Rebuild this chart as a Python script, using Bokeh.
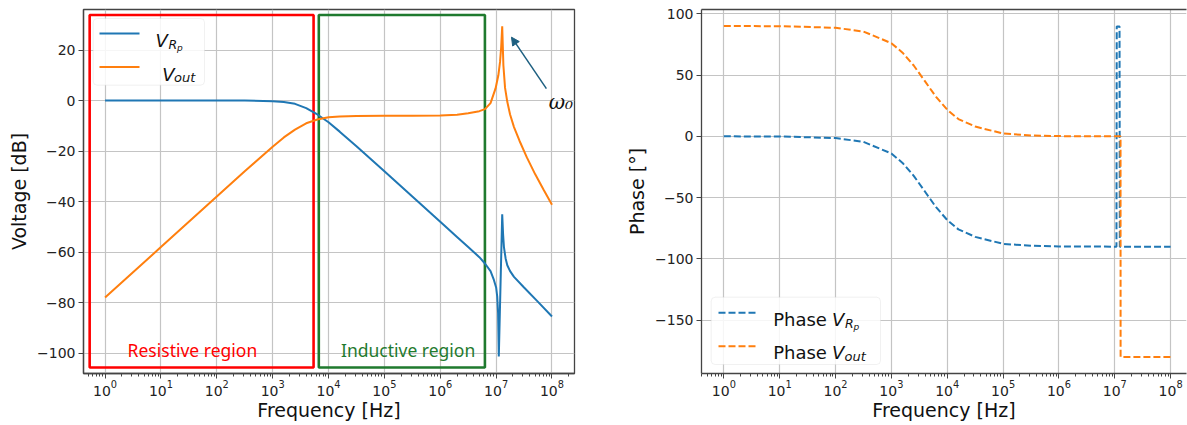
from bokeh.plotting import figure
from bokeh.layouts import row
from bokeh.models import (FixedTicker, LogTickFormatter, Label, BoxAnnotation, Arrow,
                          NormalHead, Range1d, LinearAxis)
from bokeh.core.properties import value
from bokeh.embed import file_html
from bokeh.resources import INLINE

BLUE = "#1f77b4"
ORANGE = "#ff7f0e"
ARROW_COLOR = "#1d5f80"
TXT = "#111111"

# ---------------- data ----------------
# frequencies given as decimal exponents (f = 10**exp  Hz)
vrp_mag_exp = [0, 1, 2, 2.5, 3, 3.2, 3.4, 3.6, 3.8, 4.0, 4.2, 4.5, 5.0, 5.5, 6.0, 6.3,
               6.5, 6.7, 6.8, 6.9, 6.96, 7.0, 7.02, 7.035, 7.048, 7.109, 7.125, 7.14,
               7.17, 7.2, 7.25, 7.32, 7.5, 7.75, 8.0]
vrp_mag_db = [0, 0, 0, -0.02, -0.26, -0.6, -1.3, -3.0, -5.5, -8.6, -12.3, -18.1, -28.0,
              -38.0, -48.0, -54.0, -58.0, -62.0, -64.5, -67.5, -71.0, -74.0, -77.6, -84.0,
              -101.3, -45.0, -53.0, -58.0, -62.5, -65.2, -67.5, -69.8, -74.0, -79.7, -85.5]

vout_mag_exp = [0, 1, 2, 2.5, 3, 3.2, 3.4, 3.6, 3.8, 4.0, 4.2, 4.5, 5.0, 5.5, 6.0, 6.3,
                6.5, 6.7, 6.8, 6.9, 6.99, 7.04, 7.07, 7.09, 7.109, 7.13, 7.16, 7.2, 7.25,
                7.32, 7.42, 7.55, 7.7, 7.85, 8.0]
vout_mag_db = [-78.0, -58.0, -38.0, -28.0, -18.3, -14.6, -11.5, -9.0, -7.5, -6.6, -6.3,
               -6.1, -6.0, -6.0, -5.9, -5.6, -5.0, -4.2, -3.4, -1.0, 4.8, 10.0, 15.3, 21.0,
               29.4, 14.0, 5.0, -0.5, -5.5, -10.5, -16.0, -22.5, -29.2, -35.3, -41.2]

vrp_ph_exp = [0, 1, 2, 2.5, 3, 3.2, 3.4, 3.6, 3.8, 4.0, 4.2, 4.5, 5.0, 5.5, 6.0, 7.0,
              7.03, 7.035, 7.085, 7.09, 8.0]
vrp_ph_deg = [0, -0.1, -1.4, -4.5, -14.0, -21.7, -32.2, -45.0, -57.8, -68.3, -75.9, -82.0,
              -87.7, -89.3, -89.8, -90.0, -90.0, 89.7, 89.7, -90.0, -90.0]

vout_ph_exp = [0, 1, 2, 2.5, 3, 3.2, 3.4, 3.6, 3.8, 4.0, 4.2, 4.5, 5.0, 5.5, 6.0, 7.0,
               7.103, 7.104, 8.0]
vout_ph_deg = [90.0, 89.9, 88.6, 85.5, 76.0, 68.3, 57.8, 45.0, 32.2, 21.7, 14.1, 8.0, 2.3,
               0.7, 0.2, 0.0, 0.0, -180.0, -180.0]

region_names = ["Resistive region", "Inductive region"]
region_colors = ["#ff0000", "#1f7a2e"]
region_lo_hz = [0.53, 6.7e3]
region_hi_hz = [5.4e3, 6.3e6]
region_lo_db = [-105.7, -105.7]
region_hi_db = [33.9, 33.9]
region_label_hz = [36.6, 2.66e5]
region_label_db = [-98.8, -98.8]

decade_exp = [0, 1, 2, 3, 4, 5, 6, 7, 8]
mag_ticks = [-100, -80, -60, -40, -20, 0, 20]
phase_ticks = [-150, -100, -50, 0, 50, 100]

omega_arrow_start = (10 ** 7.9, 4.7)
omega_arrow_end = (10 ** 7.275, 25.1)
omega_label_pos = (10 ** 7.943, -0.6)


def hz(exps):
    return [10.0 ** e for e in exps]


def style_axis(ax):
    ax.major_label_text_font = "DejaVu Sans"
    ax.major_label_text_font_size = "14px"
    ax.major_label_text_color = "#222222"
    ax.axis_label_text_font = "DejaVu Sans"
    ax.axis_label_text_font_size = "19px"
    ax.axis_label_text_font_style = "normal"
    ax.axis_label_text_color = TXT
    ax.axis_line_color = "#444444"
    ax.axis_line_width = 1.3
    ax.major_tick_line_color = "#444444"
    ax.major_tick_out = 5
    ax.major_tick_in = 0
    ax.minor_tick_line_color = "#444444"
    ax.minor_tick_out = 3
    ax.minor_tick_in = 0
    ax.major_label_standoff = 3
    ax.axis_label_standoff = 4


def style(p, yticks):
    xa = p.below[0]
    ya = p.left[0]
    xa.ticker = FixedTicker(
        ticks=[10.0 ** k for k in decade_exp],
        minor_ticks=[m * 10.0 ** k for k in range(-1, 9) for m in range(2, 10)])
    xa.formatter = LogTickFormatter()
    ya.ticker = FixedTicker(ticks=yticks)
    ya.major_label_overrides = {t: str(t).replace("-", "\u2212") for t in yticks}
    style_axis(xa)
    style_axis(ya)
    xa.major_label_standoff = 1
    xa.axis_label_standoff = 0
    ya.minor_tick_out = 0
    for g in (p.xgrid[0], p.ygrid[0]):
        g.grid_line_color = "#c4c4c4"
        g.grid_line_width = 1.2
    p.background_fill_color = "white"
    p.border_fill_color = "white"
    return xa, ya


def lab(p, x, y, text, size, italic=False, font="DejaVu Sans", color=TXT):
    p.add_layout(Label(x=x, y=y, x_units="screen", y_units="screen", text=text,
                       text_font=font, text_font_size=f"{size}px",
                       text_font_style="italic" if italic else "normal",
                       text_color=color, text_baseline="alphabetic", text_align="left"))


def seg(p, x0, x1, y, color, dash="solid"):
    p.add_layout(Arrow(x_start=x0, y_start=y, x_end=x1, y_end=y,
                       start_units="screen", end_units="screen", end=None,
                       line_color=color, line_width=2, line_dash=dash))


# ---------------- magnitude plot ----------------
p1 = figure(width=600, height=425, x_axis_type="log", title=None,
            x_range=Range1d(10 ** -0.386, 10 ** 8.403), y_range=Range1d(-108.05, 36.05),
            output_backend="svg", toolbar_location=None,
            min_border_left=83, min_border_right=26, min_border_top=7, min_border_bottom=52)
xa1, ya1 = style(p1, mag_ticks)
p1.outline_line_color = "#444444"
p1.outline_line_width = 1.3
xa1.axis_label = "Frequency [Hz]"
ya1.axis_label = "Voltage [dB]"

p1.quad(left=region_lo_hz, right=region_hi_hz, bottom=region_lo_db, top=region_hi_db,
        fill_alpha=0, line_color=region_colors, line_width=2.6)
p1.text(x=region_label_hz, y=region_label_db, text=region_names, text_color=region_colors,
        text_font=value("Noto Sans"), text_font_size=value("17.5px"),
        text_align="center", text_baseline="alphabetic")

p1.line(hz(vrp_mag_exp), vrp_mag_db, line_color=BLUE, line_width=2)
p1.line(hz(vout_mag_exp), vout_mag_db, line_color=ORANGE, line_width=2)

p1.add_layout(Arrow(x_start=omega_arrow_start[0], y_start=omega_arrow_start[1],
                    x_end=omega_arrow_end[0], y_end=omega_arrow_end[1],
                    end=NormalHead(size=8, fill_color=ARROW_COLOR, line_color=ARROW_COLOR),
                    line_color=ARROW_COLOR, line_width=1.5))
p1.add_layout(Label(x=omega_label_pos[0], y=omega_label_pos[1], text="\u03c9\u2080",
                    text_font="DejaVu Serif", text_font_style="italic",
                    text_font_size="20px", text_color=TXT, text_baseline="alphabetic"))

# legend (magnitude)
p1.add_layout(BoxAnnotation(left=9.7, right=121, bottom=288.3, top=355,
                            left_units="screen", right_units="screen",
                            top_units="screen", bottom_units="screen",
                            fill_color="white", fill_alpha=0.85,
                            line_color="#d0d0d0", line_width=1, border_radius=4))
seg(p1, 16, 56, 340, BLUE)
seg(p1, 16, 56, 306.6, ORANGE)
lab(p1, 72, 333.3, "V", 18, italic=True)
lab(p1, 85, 329.0, "R", 12.5, italic=True)
lab(p1, 93.5, 326.0, "p", 9, italic=True)
lab(p1, 78.7, 299.3, "V", 18, italic=True)
lab(p1, 90.5, 296.0, "out", 13, italic=True)

# ---------------- phase plot ----------------
p2 = figure(width=587, height=425, x_axis_type="log", title=None,
            x_range=Range1d(10 ** -0.40, 10 ** 8.284), y_range=Range1d(-193.5, 103.5),
            output_backend="svg", toolbar_location=None,
            min_border_left=101, min_border_right=1, min_border_top=9, min_border_bottom=51)
xa2, ya2 = style(p2, phase_ticks)
p2.outline_line_color = None
top_axis = LinearAxis(ticker=FixedTicker(ticks=[]), major_tick_out=0, minor_tick_out=0,
                      major_label_text_font_size="0px", axis_line_color="#444444",
                      axis_line_width=1.3)
p2.add_layout(top_axis, "above")
xa2.axis_label = "Frequency [Hz]"
ya2.axis_label = "Phase [\u00b0]"

p2.line(hz(vrp_ph_exp), vrp_ph_deg, line_color=BLUE, line_width=2, line_dash="7 3")
p2.line(hz(vout_ph_exp), vout_ph_deg, line_color=ORANGE, line_width=2, line_dash="7 3")

# legend (phase)
p2.add_layout(BoxAnnotation(left=9.7, right=179, bottom=9, top=76.3,
                            left_units="screen", right_units="screen",
                            top_units="screen", bottom_units="screen",
                            fill_color="white", fill_alpha=0.85,
                            line_color="#d0d0d0", line_width=1, border_radius=4))
seg(p2, 17, 55.7, 60.7, BLUE, "7 3")
seg(p2, 17, 55.7, 27.3, ORANGE, "7 3")
lab(p2, 71.7, 54, "Phase", 18)
lab(p2, 130.5, 54, "V", 18, italic=True)
lab(p2, 143.5, 49.7, "R", 12.5, italic=True)
lab(p2, 152, 46.7, "p", 9, italic=True)
lab(p2, 71.7, 20.7, "Phase", 18)
lab(p2, 130.5, 20.7, "V", 18, italic=True)
lab(p2, 143, 17.5, "out", 13, italic=True)

layout = row(p1, p2)
open("out.html", "w").write(file_html(layout, INLINE))
